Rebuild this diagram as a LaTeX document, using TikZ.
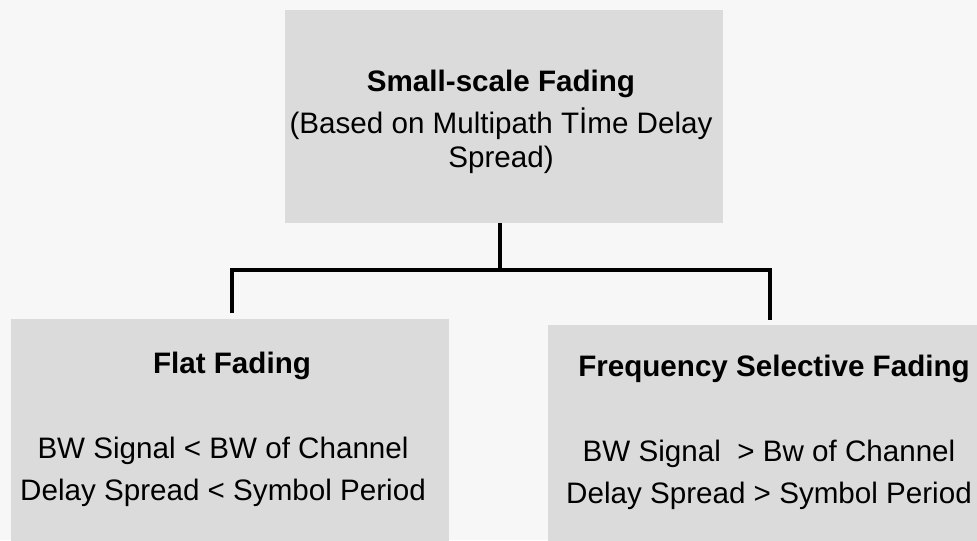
\documentclass[tikz,border=0pt]{standalone}
\usepackage{fontspec}
\setmainfont{Liberation Sans}
\usepackage{tikz}
\usetikzlibrary{calc}
\usepackage{xcolor}
\definecolor{scangray}{rgb}{0.86, 0.86, 0.86}
\definecolor{paper}{rgb}{0.97, 0.97, 0.97}

\begin{document}
\begin{tikzpicture}[x=0.5pt,y=-0.5pt,
    box/.style={fill=scangray, inner sep=0pt},
    branch/.style={line width=2pt, black},
    title/.style={font=\fontsize{14.8}{16.8}\selectfont\bfseries},
    body/.style={font=\fontsize{14.8}{21}\selectfont, align=center}]
        % Page
        \fill[paper] (0,0) rectangle (977,540);
        \useasboundingbox (0,0) rectangle (977,540);

        % Boxes
        \node[box, minimum width=219pt, minimum height=106.5pt] (small) at (504,116.5) {};
        \node[box, minimum width=219pt, minimum height=113pt] (flat) at (230,432) {};
        \node[box, minimum width=218.5pt, minimum height=110pt] (sel) at (766.5,435) {};

        % Box texts
        \node[align=center, font=\fontsize{14.8}{16.8}\selectfont] (smalltext) at ($(small.center)+(-3,5)$)
              {\textbf{Small-scale Fading}\\[4.5pt](Based on Multipath Tİme Delay\\Spread)};
        \node[title] (flattitle) at (232,366) {Flat Fading};
        \node[body] (flatbody) at (223,472) {BW Signal < BW of Channel\\Delay Spread < Symbol Period};
        \node[title] (seltitle) at (774,369) {Frequency Selective Fading};
        \node[body] (selbody) at (769,475) {BW Signal~ > Bw of Channel\\Delay Spread > Symbol Period};

        % Tree lines
        \coordinate (split) at ($(small.south)+(-4,47)$);
        \coordinate (flatin) at (232,313);
        \coordinate (selin) at (770,320);
        \draw[branch] (small.south -| split) -- (split);
        \draw[branch] (flatin) |- (split) -| (selin);

    \end{tikzpicture}
\end{document}
